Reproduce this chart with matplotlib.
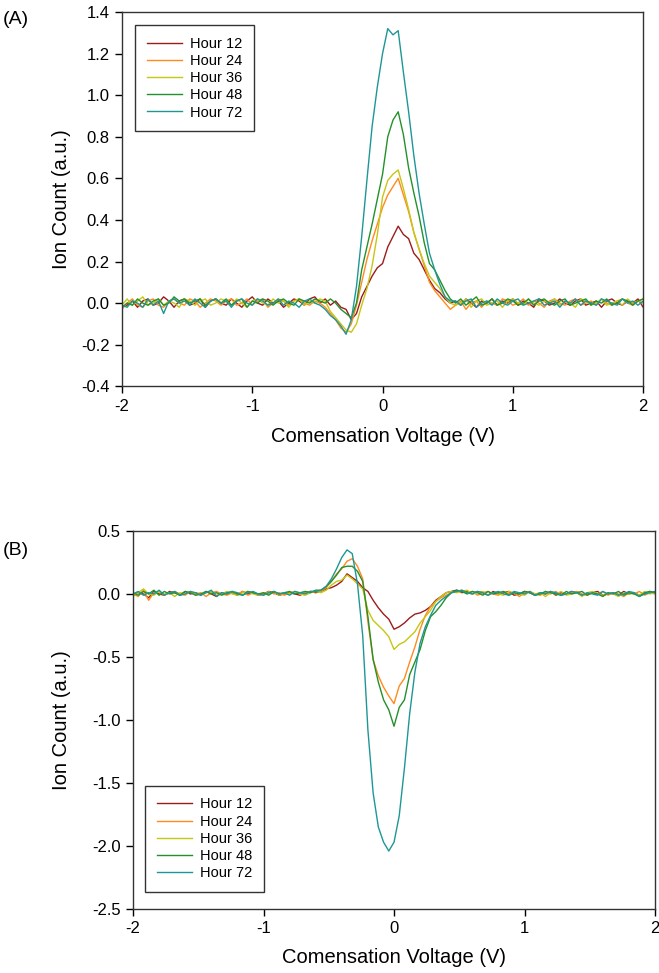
import numpy as np
import matplotlib
matplotlib.use("Agg")
import matplotlib.pyplot as plt
from matplotlib.ticker import FormatStrFormatter

plt.rcParams["font.family"] = ["Liberation Sans", "DejaVu Sans"]
plt.rcParams["axes.unicode_minus"] = False

# compensation voltage grid (V), 0.04 V steps
CV = np.linspace(-2.0, 2.0, 101)

LABELS = ["Hour 12", "Hour 24", "Hour 36", "Hour 48", "Hour 72"]
COLORS = ["#9B1C1C", "#FF8A1E", "#C6C614", "#23912A", "#1F9696"]

# ---- panel A ----
a_h12 = [
    -0.02, -0.01, 0.01, -0.02, 0.01, 0.02, -0.01, 0.00, 0.03, 0.01,
    -0.02, 0.01, 0.02, -0.01, 0.00, 0.02, -0.02, 0.01, 0.02, 0.00,
    -0.01, 0.02, 0.00, -0.02, 0.01, 0.03, 0.00, -0.01, 0.02, 0.00,
    0.01, -0.02, 0.00, 0.02, 0.01, -0.01, 0.02, 0.03, 0.00,
    0.02, -0.01, 0.01, -0.02, -0.03, -0.08, -0.05, 0.03, 0.08, 0.13,
    0.17, 0.19, 0.27, 0.32, 0.37, 0.33, 0.31, 0.24, 0.21, 0.16,
    0.11, 0.07, 0.05, 0.02, 0.00,
    0.01, -0.01, 0.02, 0.00, -0.02, 0.01, 0.00, 0.02, -0.01, 0.01,
    0.00, 0.02, -0.01, 0.01, 0.00, -0.02, 0.02, 0.01, -0.01, 0.00,
    0.02, 0.00, -0.01, 0.01, 0.02, -0.01, 0.00, 0.01, -0.02, 0.01,
    0.02, 0.00, -0.01, 0.01, 0.00, 0.02, -0.02,
]
a_h24 = [
    -0.03, 0.00, 0.02, -0.01, -0.02, 0.01, 0.02, -0.01, -0.02, 0.01,
    0.02, 0.00, -0.01, 0.02, 0.01, -0.02, 0.00, 0.02, 0.01, -0.01,
    0.01, 0.02, -0.01, 0.00, 0.02, -0.01, 0.01, 0.02, -0.02, 0.00,
    0.02, 0.01, -0.01, 0.01, 0.02, 0.00, -0.01, 0.01, 0.00,
    -0.02, -0.05, -0.08, -0.12, -0.14, -0.10, -0.01, 0.10, 0.21, 0.30,
    0.38, 0.46, 0.52, 0.56, 0.60, 0.52, 0.44, 0.34, 0.26, 0.18,
    0.10, 0.06, 0.03, 0.00, -0.03,
    -0.01, 0.01, -0.03, 0.00, 0.01, -0.02, 0.01, 0.00, -0.01, 0.02,
    0.01, -0.01, 0.00, 0.02, -0.01, 0.01, 0.00, -0.02, 0.01, 0.02,
    0.00, -0.01, 0.01, 0.02, -0.01, 0.00, 0.01, -0.01, 0.02, 0.00,
    -0.01, 0.01, 0.02, 0.00, -0.01, 0.01, 0.02,
]
a_h36 = [
    -0.01, 0.02, -0.01, 0.01, 0.03, -0.01, 0.00, 0.02, -0.01, 0.01,
    0.00, -0.02, 0.02, 0.01, -0.01, 0.01, 0.02, -0.01, 0.00, 0.02,
    0.01, -0.01, 0.02, 0.00, -0.02, 0.01, 0.02, 0.00, -0.01, 0.02,
    0.00, 0.01, -0.02, 0.01, 0.02, -0.01, 0.01, 0.00, 0.02,
    0.01, -0.04, -0.07, -0.10, -0.13, -0.14, -0.10, -0.01, 0.07, 0.18,
    0.33, 0.51, 0.59, 0.62, 0.64, 0.55, 0.45, 0.34, 0.26, 0.19,
    0.13, 0.10, 0.07, 0.03, 0.00,
    -0.01, 0.00, 0.02, -0.02, 0.01, 0.02, -0.01, 0.00, 0.01, -0.02,
    0.01, 0.02, 0.00, -0.01, 0.02, 0.00, -0.01, 0.01, 0.00, 0.02,
    -0.01, 0.01, 0.00, -0.02, 0.02, 0.01, -0.01, 0.00, 0.02, -0.01,
    0.00, 0.01, -0.01, 0.02, 0.00, 0.01, 0.00,
]
a_h48 = [
    -0.02, 0.00, -0.01, 0.02, 0.00, -0.01, 0.01, 0.02, -0.01, 0.00,
    0.03, 0.01, 0.02, 0.00, 0.01, 0.02, -0.01, 0.01, 0.02, 0.00,
    0.02, -0.01, 0.01, 0.02, -0.02, 0.01, 0.00, 0.02, 0.01, -0.01,
    0.01, 0.02, 0.00, -0.01, 0.02, 0.01, 0.00, 0.02, 0.01,
    0.00, 0.02, 0.00, -0.03, -0.05, -0.07, 0.00, 0.16, 0.27, 0.38,
    0.50, 0.62, 0.80, 0.88, 0.92, 0.81, 0.65, 0.53, 0.42, 0.29,
    0.19, 0.16, 0.11, 0.06, 0.02,
    0.00, 0.02, -0.01, 0.01, 0.03, -0.01, 0.00, 0.02, -0.01, 0.00,
    0.02, 0.01, -0.01, 0.00, 0.02, -0.01, 0.01, 0.02, 0.00, -0.01,
    0.01, 0.02, -0.01, 0.00, 0.01, 0.02, -0.01, 0.01, 0.00, 0.02,
    -0.01, 0.00, 0.02, 0.01, -0.01, 0.01, 0.02,
]
a_h72 = [
    -0.01, -0.02, 0.01, 0.00, -0.02, 0.02, -0.01, 0.01, -0.05, 0.01,
    0.02, 0.00, 0.01, -0.01, 0.02, 0.00, -0.02, 0.01, 0.02, 0.00,
    0.01, -0.02, 0.01, 0.02, 0.00, -0.01, 0.02, 0.01, -0.01, 0.00,
    0.02, -0.01, 0.01, 0.00, -0.02, 0.01, 0.02, 0.00, -0.01,
    -0.03, -0.06, -0.08, -0.11, -0.15, -0.08, 0.08, 0.32, 0.59, 0.85,
    1.04, 1.20, 1.32, 1.29, 1.31, 1.11, 0.92, 0.71, 0.53, 0.38,
    0.24, 0.16, 0.09, 0.03, 0.01,
    0.01, -0.01, 0.01, 0.02, -0.02, 0.00, 0.01, -0.01, 0.02, 0.00,
    -0.01, 0.01, 0.02, -0.01, 0.00, 0.01, 0.02, -0.01, 0.00, 0.01,
    -0.02, 0.01, 0.00, 0.02, -0.01, 0.01, 0.00, -0.01, 0.02, 0.01,
    0.00, -0.01, 0.02, 0.00, 0.01, -0.01, 0.01,
]

# ---- panel B ----
b_h12 = [
    -0.01, 0.01, 0.00, -0.03, 0.02, 0.00, -0.01, 0.02, 0.01, -0.01,
    0.02, 0.00, 0.01, -0.01, 0.02, 0.00, -0.02, 0.01, 0.00, 0.01,
    -0.01, 0.02, 0.00, 0.01, -0.01, 0.00, 0.02, 0.01, -0.01, 0.00,
    0.01, 0.00, -0.01, 0.01, 0.02, 0.01,
    0.02, 0.04, 0.05, 0.07, 0.10, 0.16, 0.13, 0.10, 0.05, 0.02,
    -0.05, -0.11, -0.16, -0.20, -0.28, -0.26, -0.23, -0.19, -0.16, -0.15,
    -0.13, -0.10, -0.05, -0.02, 0.01,
    0.02, 0.03, 0.01, 0.02, 0.00, 0.02, 0.01, -0.01, 0.02, 0.00,
    0.01, 0.02, -0.01, 0.00, 0.02, 0.01, -0.01, 0.01, 0.00, 0.02,
    -0.01, 0.01, 0.00, 0.02, 0.01, -0.01, 0.00, 0.01, 0.02, -0.01,
    0.00, 0.01, -0.01, 0.02, 0.00, 0.01, -0.01, 0.00, 0.02, 0.01,
]
b_h24 = [
    0.00, -0.02, 0.03, -0.05, 0.01, 0.02, -0.01, 0.01, 0.02, 0.00,
    -0.01, 0.02, 0.00, 0.01, -0.02, 0.01, 0.02, 0.00, -0.01, 0.01,
    0.00, 0.02, -0.01, 0.01, 0.00, -0.01, 0.02, 0.00, 0.01, -0.01,
    0.01, 0.02, 0.00, 0.01, 0.02, 0.02,
    0.02, 0.05, 0.10, 0.16, 0.20, 0.26, 0.28, 0.22, 0.12, -0.22,
    -0.52, -0.65, -0.74, -0.81, -0.87, -0.73, -0.67, -0.54, -0.42, -0.28,
    -0.17, -0.10, -0.06, -0.03, -0.01,
    0.01, 0.02, 0.03, 0.01, 0.02, -0.01, 0.01, 0.02, 0.00, -0.01,
    0.02, 0.00, 0.01, -0.02, 0.01, 0.02, 0.00, -0.01, 0.01, 0.00,
    0.02, -0.01, 0.00, 0.01, 0.02, 0.00, -0.01, 0.01, 0.00, 0.02,
    -0.01, 0.01, 0.00, -0.02, 0.01, 0.00, 0.02, -0.01, 0.01, 0.00,
]
b_h36 = [
    -0.02, 0.01, 0.04, 0.00, -0.01, 0.02, 0.00, 0.01, -0.02, 0.01,
    0.00, 0.02, -0.01, 0.00, 0.01, 0.02, -0.01, 0.00, 0.02, 0.00,
    -0.01, 0.01, 0.02, 0.00, -0.01, 0.01, 0.00, 0.02, -0.01, 0.01,
    0.00, 0.02, 0.00, -0.01, 0.01, 0.02,
    0.01, 0.03, 0.07, 0.10, 0.11, 0.15, 0.12, 0.08, 0.04, -0.13,
    -0.21, -0.25, -0.29, -0.34, -0.44, -0.40, -0.38, -0.34, -0.30, -0.23,
    -0.18, -0.13, -0.06, -0.02, 0.01,
    0.02, 0.01, 0.02, 0.03, 0.00, 0.01, 0.02, -0.01, 0.01, 0.00,
    -0.01, 0.02, 0.01, 0.00, -0.01, 0.02, 0.00, 0.01, -0.02, 0.01,
    0.00, 0.02, -0.01, 0.00, 0.01, -0.02, 0.01, 0.02, 0.00, -0.01,
    0.01, 0.00, -0.02, 0.01, 0.00, 0.01, -0.01, 0.02, 0.00, 0.01,
]
b_h48 = [
    0.01, -0.01, 0.02, 0.00, 0.03, -0.01, 0.02, 0.00, 0.01, -0.01,
    0.02, 0.01, -0.01, 0.00, 0.02, 0.00, 0.01, -0.01, 0.01, 0.02,
    0.00, -0.01, 0.02, 0.01, 0.00, 0.01, -0.01, 0.02, 0.00, 0.01,
    0.02, 0.00, 0.01, 0.02, 0.01, 0.03,
    0.03, 0.06, 0.10, 0.15, 0.21, 0.22, 0.22, 0.18, 0.10, -0.18,
    -0.52, -0.70, -0.84, -0.92, -1.05, -0.90, -0.84, -0.64, -0.54, -0.44,
    -0.29, -0.18, -0.14, -0.09, -0.03,
    0.01, 0.03, 0.02, 0.00, 0.02, 0.01, -0.01, 0.02, 0.00, 0.01,
    0.02, -0.01, 0.01, 0.00, 0.02, 0.01, -0.01, 0.00, 0.02, 0.01,
    0.00, -0.01, 0.02, 0.00, 0.01, 0.02, -0.01, 0.01, 0.00, -0.02,
    0.01, 0.00, 0.02, -0.01, 0.01, 0.00, -0.02, 0.01, 0.02, 0.01,
]
b_h72 = [
    0.00, 0.02, -0.01, 0.01, 0.00, 0.03, -0.01, 0.01, 0.02, -0.01,
    0.00, 0.02, 0.01, -0.01, 0.01, 0.03, -0.02, 0.01, 0.00, 0.02,
    0.01, -0.01, 0.01, 0.02, 0.00, -0.01, 0.01, 0.02, 0.00, 0.01,
    -0.01, 0.02, 0.01, 0.00, 0.02, 0.02,
    0.03, 0.06, 0.12, 0.20, 0.29, 0.35, 0.32, 0.08, -0.33, -1.08,
    -1.58, -1.85, -1.97, -2.04, -1.97, -1.76, -1.38, -0.95, -0.62, -0.39,
    -0.26, -0.17, -0.09, -0.05, -0.02,
    0.01, 0.02, 0.03, 0.01, 0.00, 0.02, 0.01, -0.01, 0.01, 0.02,
    0.00, -0.01, 0.02, 0.01, 0.00, 0.02, -0.01, 0.01, 0.00, 0.02,
    0.01, -0.01, 0.00, 0.02, 0.01, -0.01, 0.01, 0.00, -0.01, 0.02,
    0.00, 0.01, -0.01, 0.00, 0.02, 0.01, -0.02, 0.00, 0.01, 0.02,
]

PANEL_A = [a_h12, a_h24, a_h36, a_h48, a_h72]
PANEL_B = [b_h12, b_h24, b_h36, b_h48, b_h72]


def style_axes(ax, ylim, yticks):
    ax.set_xlim(-2, 2)
    ax.set_ylim(*ylim)
    ax.set_xticks([-2, -1, 0, 1, 2])
    ax.set_yticks(yticks)
    ax.yaxis.set_major_formatter(FormatStrFormatter("%.1f"))
    ax.tick_params(direction="out", length=5, width=1, labelsize=12, colors="black",
                   top=False, right=False, pad=4)
    for spine in ax.spines.values():
        spine.set_linewidth(1.0)
        spine.set_color("#333333")


fig = plt.figure(figsize=(6.59, 9.73), dpi=100)
ax_a = fig.add_axes([0.185, 0.603, 0.791, 0.3847])
ax_b = fig.add_axes([0.2018, 0.0658, 0.7922, 0.3885])

for ax, curves in [(ax_a, PANEL_A), (ax_b, PANEL_B)]:
    for ys, label, color in zip(curves, LABELS, COLORS):
        ax.plot(CV, ys, color=color, linewidth=1.0, label=label)

style_axes(ax_a, (-0.4, 1.4), np.arange(-0.4, 1.41, 0.2))
style_axes(ax_b, (-2.5, 0.5), np.arange(-2.5, 0.51, 0.5))

for ax, loc, anchor in [(ax_a, "upper left", (0.025, 0.965)), (ax_b, "lower left", (0.023, 0.045))]:
    leg = ax.legend(loc=loc, bbox_to_anchor=anchor, borderaxespad=0, fontsize=10.5,
                    handlelength=2.4, handletextpad=0.6, labelspacing=0.22,
                    borderpad=0.8, fancybox=False, framealpha=1)
    leg.get_frame().set_edgecolor("#333333")
    leg.get_frame().set_linewidth(1.0)

ax_a.set_xlabel("Comensation Voltage (V)", fontsize=14.5)
ax_a.set_ylabel("Ion Count (a.u.)", fontsize=14.5)
ax_a.xaxis.set_label_coords(0.5, -0.108)
ax_a.yaxis.set_label_coords(-0.097, 0.5)

ax_b.set_xlabel("Comensation Voltage (V)", fontsize=14.5)
ax_b.set_ylabel("Ion Count (a.u.)", fontsize=14.5)
ax_b.xaxis.set_label_coords(0.5, -0.104)
ax_b.yaxis.set_label_coords(-0.118, 0.5)

fig.text(0.004, 0.980, "(A)", fontsize=14, va="center", ha="left")
fig.text(0.004, 0.434, "(B)", fontsize=14, va="center", ha="left")

fig.savefig("out.png", dpi=100)
